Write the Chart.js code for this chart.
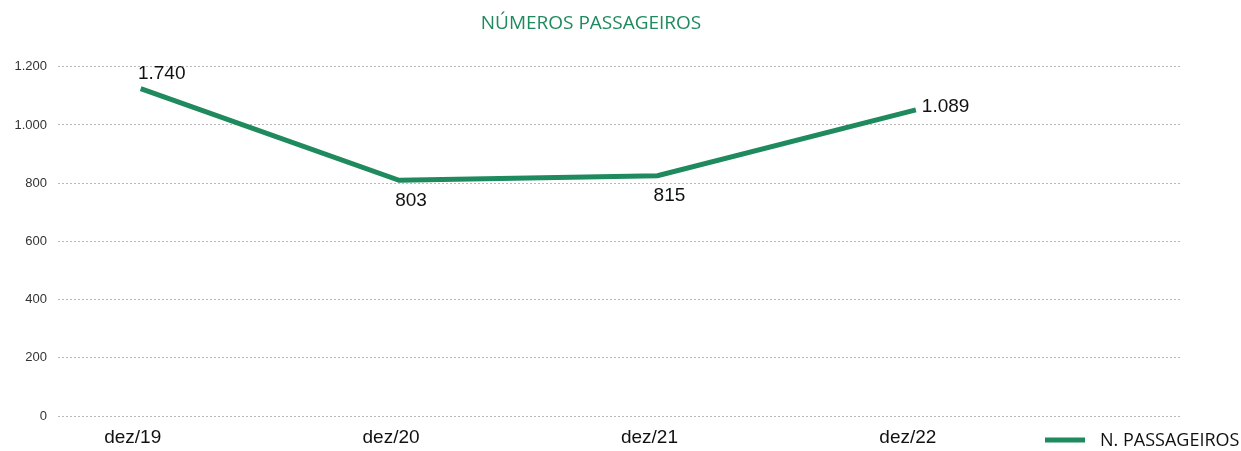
<!DOCTYPE html>
<html>
<head>
<meta charset="utf-8">
<script src="https://cdn.jsdelivr.net/npm/chart.js@4"></script>
<style>
  html, body { margin: 0; padding: 0; background: #fff; }
  #wrap { width: 1241px; height: 451px; position: relative; }
</style>
</head>
<body>
<div id="wrap"><canvas id="chart"></canvas></div>
<script>
const categories = ["dez/19", "dez/20", "dez/21", "dez/22"];
const passageiros = [1125, 810, 826, 1052];
const valueLabels = ["1.740", "803", "815", "1.089"];
const yTicks = [0, 200, 400, 600, 800, 1000, 1200];

const green = "#1e8a5e";
const labelPlacement = ["above", "below", "below", "right"];

const pointLabels = {
  id: "pointLabels",
  afterDatasetsDraw(chart) {
    const ctx = chart.ctx;
    const meta = chart.getDatasetMeta(0);
    ctx.save();
    ctx.font = "19px 'Liberation Sans', Arial, sans-serif";
    ctx.fillStyle = "#111";
    ctx.textBaseline = "middle";
    meta.data.forEach((pt, i) => {
      const place = labelPlacement[i];
      if (place === "right") {
        ctx.textAlign = "left";
        ctx.fillText(valueLabels[i], pt.x + 6, pt.y - 3);
      } else if (place === "above") {
        ctx.textAlign = "center";
        ctx.fillText(valueLabels[i], pt.x + 21, pt.y - 15);
      } else {
        ctx.textAlign = "center";
        ctx.fillText(valueLabels[i], pt.x + 12, pt.y + 20);
      }
    });
    ctx.restore();
  },
};

const cornerLegend = {
  id: "cornerLegend",
  afterDraw(chart) {
    const ctx = chart.ctx;
    const ds = chart.data.datasets[0];
    const x = chart.width - 196;
    const y = chart.height - 11;
    ctx.save();
    ctx.strokeStyle = ds.borderColor;
    ctx.lineWidth = 5;
    ctx.beginPath();
    ctx.moveTo(x, y);
    ctx.lineTo(x + 40, y);
    ctx.stroke();
    ctx.font = "18px 'Open Sans', sans-serif";
    ctx.fillStyle = "#111";
    ctx.textAlign = "left";
    ctx.textBaseline = "middle";
    ctx.fillText(ds.label, x + 55, y + 1);
    ctx.restore();
  },
};

new Chart(document.getElementById("chart"), {
  type: "line",
  data: {
    datasets: [
      {
        label: "N. PASSAGEIROS",
        data: passageiros.map((v, i) => ({ x: i, y: v })),
        borderColor: green,
        backgroundColor: green,
        borderWidth: 5,
        pointRadius: 0,
        tension: 0,
      },
    ],
  },
  options: {
    responsive: true,
    maintainAspectRatio: false,
    animation: false,
    layout: { padding: { left: 0, right: 59, top: 0, bottom: 0 } },
    plugins: {
      legend: { display: false },
      tooltip: { enabled: false },
      title: {
        display: true,
        text: "NÚMEROS PASSAGEIROS",
        color: green,
        font: { family: "'Open Sans', sans-serif", size: 19, weight: "normal" },
        padding: { top: 12, bottom: 32 },
      },
    },
    scales: {
      x: {
        type: "linear",
        min: -0.32,
        max: 4.03,
        grid: { display: false, drawTicks: false },
        border: { display: false },
        afterBuildTicks: (scale) => {
          scale.ticks = categories.map((c, i) => ({ value: i }));
        },
        afterFit: (scale) => {
          scale.height = 35;
        },
        ticks: {
          callback: (v) => categories[v],
          color: "#111",
          font: { family: "'Liberation Sans', Arial, sans-serif", size: 19 },
          padding: 10,
          labelOffset: -8,
          maxRotation: 0,
          autoSkip: false,
        },
      },
      y: {
        min: 0,
        max: 1200,
        afterBuildTicks: (scale) => {
          scale.ticks = yTicks.map((v) => ({ value: v }));
        },
        afterFit: (scale) => {
          scale.width = 58;
        },
        border: { display: false, dash: [2, 2] },
        grid: {
          color: "#b8b8b8",
          lineWidth: 1,
          drawTicks: false,
        },
        ticks: {
          callback: (v) => v.toLocaleString("de-DE"),
          color: "#333",
          font: { family: "'Liberation Sans', Arial, sans-serif", size: 13 },
          padding: 11,
        },
      },
    },
  },
  plugins: [pointLabels, cornerLegend],
});
</script>
</body>
</html>
